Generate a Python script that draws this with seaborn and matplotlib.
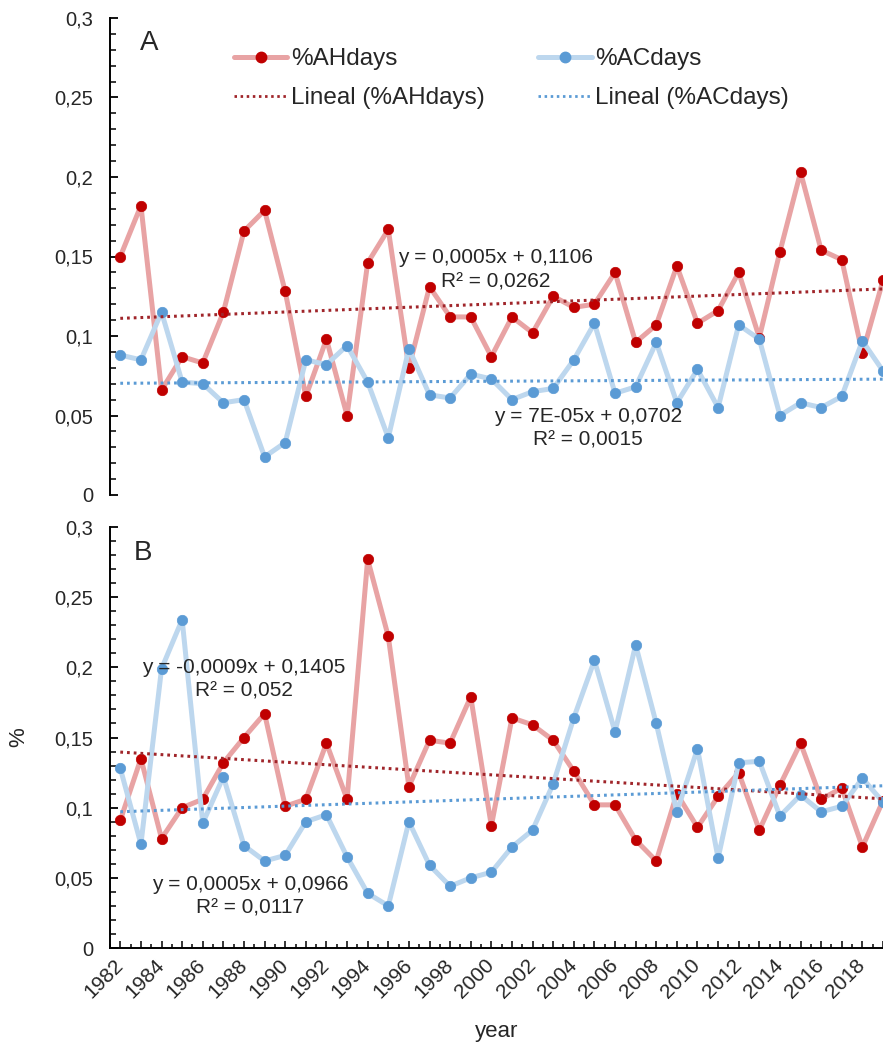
import numpy as np
import pandas as pd
import seaborn as sns
import matplotlib
matplotlib.use("Agg")
import matplotlib.pyplot as plt
from matplotlib.lines import Line2D
from matplotlib.ticker import MultipleLocator, FixedLocator, FuncFormatter

# ---------------- data ----------------
years = list(range(1982, 2020))

ah_A = [0.150, 0.182, 0.066, 0.087, 0.083, 0.115, 0.166, 0.179, 0.128, 0.062,
        0.098, 0.050, 0.146, 0.167, 0.080, 0.131, 0.112, 0.112, 0.087, 0.112,
        0.102, 0.125, 0.118, 0.120, 0.140, 0.096, 0.107, 0.144, 0.108, 0.116,
        0.140, 0.099, 0.153, 0.203, 0.154, 0.148, 0.089, 0.135]
ac_A = [0.088, 0.085, 0.115, 0.071, 0.070, 0.058, 0.060, 0.024, 0.033, 0.085,
        0.082, 0.094, 0.071, 0.036, 0.092, 0.063, 0.061, 0.076, 0.073, 0.060,
        0.065, 0.067, 0.085, 0.108, 0.064, 0.068, 0.096, 0.058, 0.079, 0.055,
        0.107, 0.098, 0.050, 0.058, 0.055, 0.062, 0.097, 0.078]
ah_B = [0.091, 0.135, 0.078, 0.100, 0.106, 0.132, 0.150, 0.167, 0.101, 0.106,
        0.146, 0.106, 0.277, 0.222, 0.115, 0.148, 0.146, 0.179, 0.087, 0.164,
        0.159, 0.148, 0.126, 0.102, 0.102, 0.077, 0.062, 0.110, 0.086, 0.108,
        0.125, 0.084, 0.116, 0.146, 0.106, 0.114, 0.072, 0.105]
ac_B = [0.128, 0.074, 0.199, 0.234, 0.089, 0.122, 0.073, 0.062, 0.066, 0.090,
        0.095, 0.065, 0.039, 0.030, 0.090, 0.059, 0.044, 0.050, 0.054, 0.072,
        0.084, 0.117, 0.164, 0.205, 0.154, 0.216, 0.160, 0.097, 0.142, 0.064,
        0.132, 0.133, 0.094, 0.109, 0.097, 0.101, 0.121, 0.104]

# trendline coefficients (slope, intercept) as printed on the chart
trend_ah_A = (0.0005, 0.1106)
trend_ac_A = (0.00007, 0.0702)
trend_ah_B = (-0.0009, 0.1405)
trend_ac_B = (0.0005, 0.0966)

eq_ah_A = ["y = 0,0005x + 0,1106", "R² = 0,0262"]
eq_ac_A = ["y = 7E-05x + 0,0702", "R² = 0,0015"]
eq_ah_B = ["y = -0,0009x + 0,1405", "R² = 0,052"]
eq_ac_B = ["y = 0,0005x + 0,0966", "R² = 0,0117"]

series_names = ["%AHdays", "%ACdays", "Lineal (%AHdays)", "Lineal (%ACdays)"]
panel_labels = ["A", "B"]
xtick_years = list(range(1982, 2019, 2))

# ---------------- style ----------------
sns.set_theme(style="white")
plt.rcParams["font.family"] = ["Liberation Sans", "DejaVu Sans"]

RED_LINE = "#E8A3A4"
RED_MARK = "#C00000"
RED_TREND = "#A0252A"
BLUE_LINE = "#BDD7EE"
BLUE_MARK = "#5B9BD5"
BLUE_TREND = "#5B9BD5"

W, H = 883, 1053
fig = plt.figure(figsize=(W / 100, H / 100), dpi=100)
axA = fig.add_axes([110 / W, 1 - 495 / H, (W - 110) / W, (495 - 18) / H])
axB = fig.add_axes([110 / W, 1 - 948 / H, (W - 110) / W, (948 - 527) / H])

idx = np.arange(1, len(years) + 1)


def comma_fmt(v, p):
    if abs(v) < 1e-9:
        return "0"
    return f"{v:g}".replace(".", ",")


def draw_panel(ax, ah, ac, t_ah, t_ac):
    sns.lineplot(x=years, y=ah, ax=ax, color=RED_LINE, lw=3.6, marker="o",
                 markersize=7.5, markerfacecolor=RED_MARK,
                 markeredgecolor=RED_MARK, markeredgewidth=0.5, zorder=3)
    sns.lineplot(x=years, y=ac, ax=ax, color=BLUE_LINE, lw=3.6, marker="o",
                 markersize=7.5, markerfacecolor=BLUE_MARK,
                 markeredgecolor=BLUE_MARK, markeredgewidth=0.5, zorder=4)
    ax.plot(years, t_ah[0] * idx + t_ah[1], color=RED_TREND, lw=2.2,
            linestyle=(0, (0.9, 1.3)), zorder=5)
    ax.plot(years, t_ac[0] * idx + t_ac[1], color=BLUE_TREND, lw=2.2,
            linestyle=(0, (0.9, 1.3)), zorder=5)
    ax.set_xlim(1981.5, 2019.0)
    ax.set_ylim(0, 0.3)
    ax.yaxis.set_major_locator(MultipleLocator(0.05))
    ax.yaxis.set_minor_locator(MultipleLocator(0.01))
    ax.yaxis.set_major_formatter(FuncFormatter(comma_fmt))
    ax.tick_params(axis="y", which="major", direction="in", length=6,
                   width=1.3, color="black", labelsize=14.5, pad=12, left=True)
    ax.tick_params(axis="y", which="minor", direction="in", length=4,
                   width=1.1, color="black", left=True)
    for s in ["top", "right"]:
        ax.spines[s].set_visible(False)
    ax.spines["left"].set_color("black")
    ax.spines["left"].set_linewidth(1.4)
    ax.set_xlabel("")
    ax.set_ylabel("")


draw_panel(axA, ah_A, ac_A, trend_ah_A, trend_ac_A)
draw_panel(axB, ah_B, ac_B, trend_ah_B, trend_ac_B)

# panel A: no x axis
axA.spines["bottom"].set_visible(False)
axA.set_xticks([])

# panel B: x axis
axB.spines["bottom"].set_color("black")
axB.spines["bottom"].set_linewidth(1.4)
axB.xaxis.set_major_locator(FixedLocator(years))
axB.xaxis.set_minor_locator(FixedLocator([y + 0.5 for y in years[:-1]] + [1981.5]))
axB.xaxis.set_major_formatter(
    FuncFormatter(lambda v, p: str(int(round(v))) if int(round(v)) in xtick_years else ""))
axB.tick_params(axis="x", which="major", direction="in", length=5, width=1.1,
                color="black", labelsize=15, pad=10, bottom=True)
axB.tick_params(axis="x", which="minor", direction="in", length=3, width=1.1,
                color="black", bottom=True)
for lab in axB.get_xticklabels():
    lab.set_rotation(45)
    lab.set_ha("right")
    lab.set_va("center")
    lab.set_rotation_mode("anchor")
axB.set_xlabel("year", fontsize=16, labelpad=14)
axB.set_ylabel("%", fontsize=16, labelpad=18)

# panel letters
fig.text(149 / W, 1 - 43 / H, panel_labels[0], fontsize=20, ha="center", va="center")
fig.text(143 / W, 1 - 553 / H, panel_labels[1], fontsize=20, ha="center", va="center")

# equations
eq_fs = 15
axA.text(2000.2, 0.1495, eq_ah_A[0], fontsize=eq_fs, ha="center", va="center", zorder=6)
axA.text(2000.2, 0.134, eq_ah_A[1], fontsize=eq_fs, ha="center", va="center", zorder=6)
axA.text(2004.7, 0.0492, eq_ac_A[0], fontsize=eq_fs, ha="center", va="center", zorder=6)
axA.text(2004.7, 0.0346, eq_ac_A[1], fontsize=eq_fs, ha="center", va="center", zorder=6)
axB.text(1988.0, 0.200, eq_ah_B[0], fontsize=eq_fs, ha="center", va="center", zorder=6)
axB.text(1988.0, 0.183, eq_ah_B[1], fontsize=eq_fs, ha="center", va="center", zorder=6)
axB.text(1988.3, 0.045, eq_ac_B[0], fontsize=eq_fs, ha="center", va="center", zorder=6)
axB.text(1988.3, 0.0286, eq_ac_B[1], fontsize=eq_fs, ha="center", va="center", zorder=6)

# legend
handles = [
    Line2D([], [], color=RED_LINE, lw=3.6, marker="o", markersize=7.5,
           markerfacecolor=RED_MARK, markeredgecolor=RED_MARK),
    Line2D([], [], color=RED_TREND, lw=2.0, linestyle=(0, (0.9, 1.3))),
    Line2D([], [], color=BLUE_LINE, lw=3.6, marker="o", markersize=7.5,
           markerfacecolor=BLUE_MARK, markeredgecolor=BLUE_MARK),
    Line2D([], [], color=BLUE_TREND, lw=2.0, linestyle=(0, (0.9, 1.3))),
]
labels = [series_names[0], series_names[2], series_names[1], series_names[3]]
fig.legend(handles, labels, ncol=2, loc="upper left",
           bbox_to_anchor=(234 / W, 1 - 48 / H), frameon=False, fontsize=17.5,
           handlelength=2.2, handletextpad=0.15, columnspacing=2.2,
           labelspacing=0.7, borderpad=0, borderaxespad=0)

fig.savefig("out.png", dpi=100)
